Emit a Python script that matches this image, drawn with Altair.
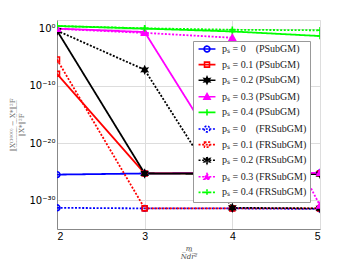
import altair as alt
import pandas as pd
import math

# ---------------- data (log10 of the relative error) ----------------
x_vals = [2, 3, 4, 5]

labels = [
    "pₛ = 0\u2008\u2007 (PSubGM)",
    "pₛ = 0.1 (PSubGM)",
    "pₛ = 0.2 (PSubGM)",
    "pₛ = 0.3 (PSubGM)",
    "pₛ = 0.4 (PSubGM)",
    "pₛ = 0\u2008\u2007 (FRSubGM)",
    "pₛ = 0.1 (FRSubGM)",
    "pₛ = 0.2 (FRSubGM)",
    "pₛ = 0.3 (FRSubGM)",
    "pₛ = 0.4 (FRSubGM)",
]

exp_p0_P = [-25.5, -25.3, -25.2, -25.2]
exp_p1_P = [-7.9, -25.3, -25.3, -25.3]
exp_p2_P = [-0.35, -25.3, -25.4, -25.4]
exp_p3_P = [0.0, -0.6, -25.1, -25.2]
exp_p4_P = [0.45, 0.0, -0.5, -1.3]
exp_p0_F = [-31.3, -31.4, -31.4, -31.5]
exp_p1_F = [-5.4, -31.4, -31.4, -31.4]
exp_p2_F = [-0.35, -7.2, -31.3, -31.4]
exp_p3_F = [-0.05, -0.75, -1.6, -30.9]
exp_p4_F = [0.45, 0.05, -0.2, -0.3]

series_exps = [exp_p0_P, exp_p1_P, exp_p2_P, exp_p3_P, exp_p4_P,
               exp_p0_F, exp_p1_F, exp_p2_F, exp_p3_F, exp_p4_F]

# ---------------- styles ----------------
base_colors = ["#0000ff", "#ff0000", "#000000", "#ff00ff", "#00ff00"]
colors = base_colors + base_colors
filled = [False, False, True, True, False] * 2
fills = [c if f else "transparent" for c, f in zip(colors, filled)]
dashes = [[1, 0]] * 5 + [[2, 1.6]] * 5

def star_path(n=6, r_out=1.1, r_in=0.55):
    pts = []
    for i in range(2 * n):
        r = r_out if i % 2 == 0 else r_in
        a = -math.pi / 2 + i * math.pi / n
        pts.append(f"{r*math.cos(a):.3f},{r*math.sin(a):.3f}")
    return "M" + "L".join(pts) + "Z"

m_circle = "M1,0A1,1,0,1,1,-1,0A1,1,0,1,1,1,0Z"
m_square = "M-0.85,-0.85H0.85V0.85H-0.85Z"
m_star = star_path()
m_tri = "M0,-1.1L1.05,0.8H-1.05Z"
m_plus = "M-1.1,0H1.1M0,-1.1V1.1"
base_markers = [m_circle, m_square, m_star, m_tri, m_plus]
markers = base_markers + base_markers
seg = "M-2.9,0H2.9"
legend_paths = [seg + m for m in markers]

rows = []
for i, lab in enumerate(labels):
    for xv, e in zip(x_vals, series_exps[i]):
        rows.append({"x": xv, "y": 10 ** e, "series": lab, "order": i,
                     "color": colors[i], "fill": fills[i], "marker": markers[i],
                     "dash": dashes[i]})
df = pd.DataFrame(rows)

def overline(s):
    return "".join(ch + "\u0305" for ch in s)

def underline(s):
    return "".join(ch + "\u0332" for ch in s)

xs = alt.X("x:Q", scale=alt.Scale(domain=[2, 5], nice=False, zero=False),
           axis=alt.Axis(values=x_vals, format="d", grid=True, ticks=False,
                         labelFont="Liberation Sans", labelFontSize=10.5,
                         title=["m", overline("Ndr²")], titleFont="DejaVu Serif",
                         titleFontStyle="italic", titleFontWeight="normal",
                         titleFontSize=7, titleLineHeight=8, titlePadding=3, titleColor="#444"))
ys = alt.Y("y:Q", scale=alt.Scale(type="log", domain=[1e-35, 10 ** 1.5], nice=False),
           axis=alt.Axis(values=[1e-30, 1e-20, 1e-10, 1], grid=True, ticks=False,
                         labelFont="DejaVu Sans", labelFontSize=10,
                         labelExpr="datum.value >= 0.5 ? '10⁰' : datum.value > 1e-15 ? '10⁻¹⁰' : datum.value > 1e-25 ? '10⁻²⁰' : '10⁻³⁰'",
                         title=[underline("‖X⁽¹⁰⁰⁰⁾ − X*‖²F"), "‖X*‖²F"],
                         titleFont="DejaVu Serif", titleFontWeight="normal",
                         titleFontSize=7, titleLineHeight=9, titlePadding=4, titleColor="#777"))

lines = alt.Chart(df).mark_line(strokeWidth=1.8, clip=True).encode(
    x=xs, y=ys,
    detail="series:N",
    stroke=alt.Stroke("color:N", scale=None),
    strokeDash=alt.StrokeDash("dash", scale=None),
)

points = alt.Chart(df).mark_point(size=34, strokeWidth=1.6, opacity=1, clip=True).encode(
    x=xs, y=ys,
    shape=alt.Shape("marker:N", scale=None),
    stroke=alt.Stroke("color:N", scale=None),
    fill=alt.Fill("fill:N", scale=None),
)

leg = alt.Legend(title=None, orient="none", legendX=136, legendY=21,
                 strokeColor="#999", fillColor="white", padding=3,
                 labelFont="Liberation Serif", labelFontSize=10, labelColor="#222",
                 symbolSize=34, symbolStrokeWidth=1.6, symbolOpacity=1,
                 symbolOffset=6, labelOffset=10, rowPadding=2.6)
dom = labels
legend_layer = alt.Chart(df).mark_point(opacity=0, size=34).encode(
    x=xs, y=ys,
    shape=alt.Shape("series:N", scale=alt.Scale(domain=dom, range=legend_paths), legend=leg, sort=dom),
    stroke=alt.Stroke("series:N", scale=alt.Scale(domain=dom, range=colors), legend=leg, sort=dom),
    fill=alt.Fill("series:N", scale=alt.Scale(domain=dom, range=fills), legend=leg, sort=dom),
    strokeDash=alt.StrokeDash("series:N", scale=alt.Scale(domain=dom, range=dashes), legend=leg, sort=dom),
)

chart = alt.layer(legend_layer, lines, points).properties(
    width=263, height=209,
    autosize=alt.AutoSizeParams(type="none"),
    padding={"left": 49, "top": 12, "right": 26, "bottom": 36},
).configure_view(stroke="#888", strokeWidth=1).configure_axis(
    domainColor="#888", gridColor="#e8e8e8", gridWidth=1,
    labelColor="#262626", labelPadding=4,
).configure(background="white")

chart.save("out.html", embed_options={"renderer": "svg", "actions": False})
